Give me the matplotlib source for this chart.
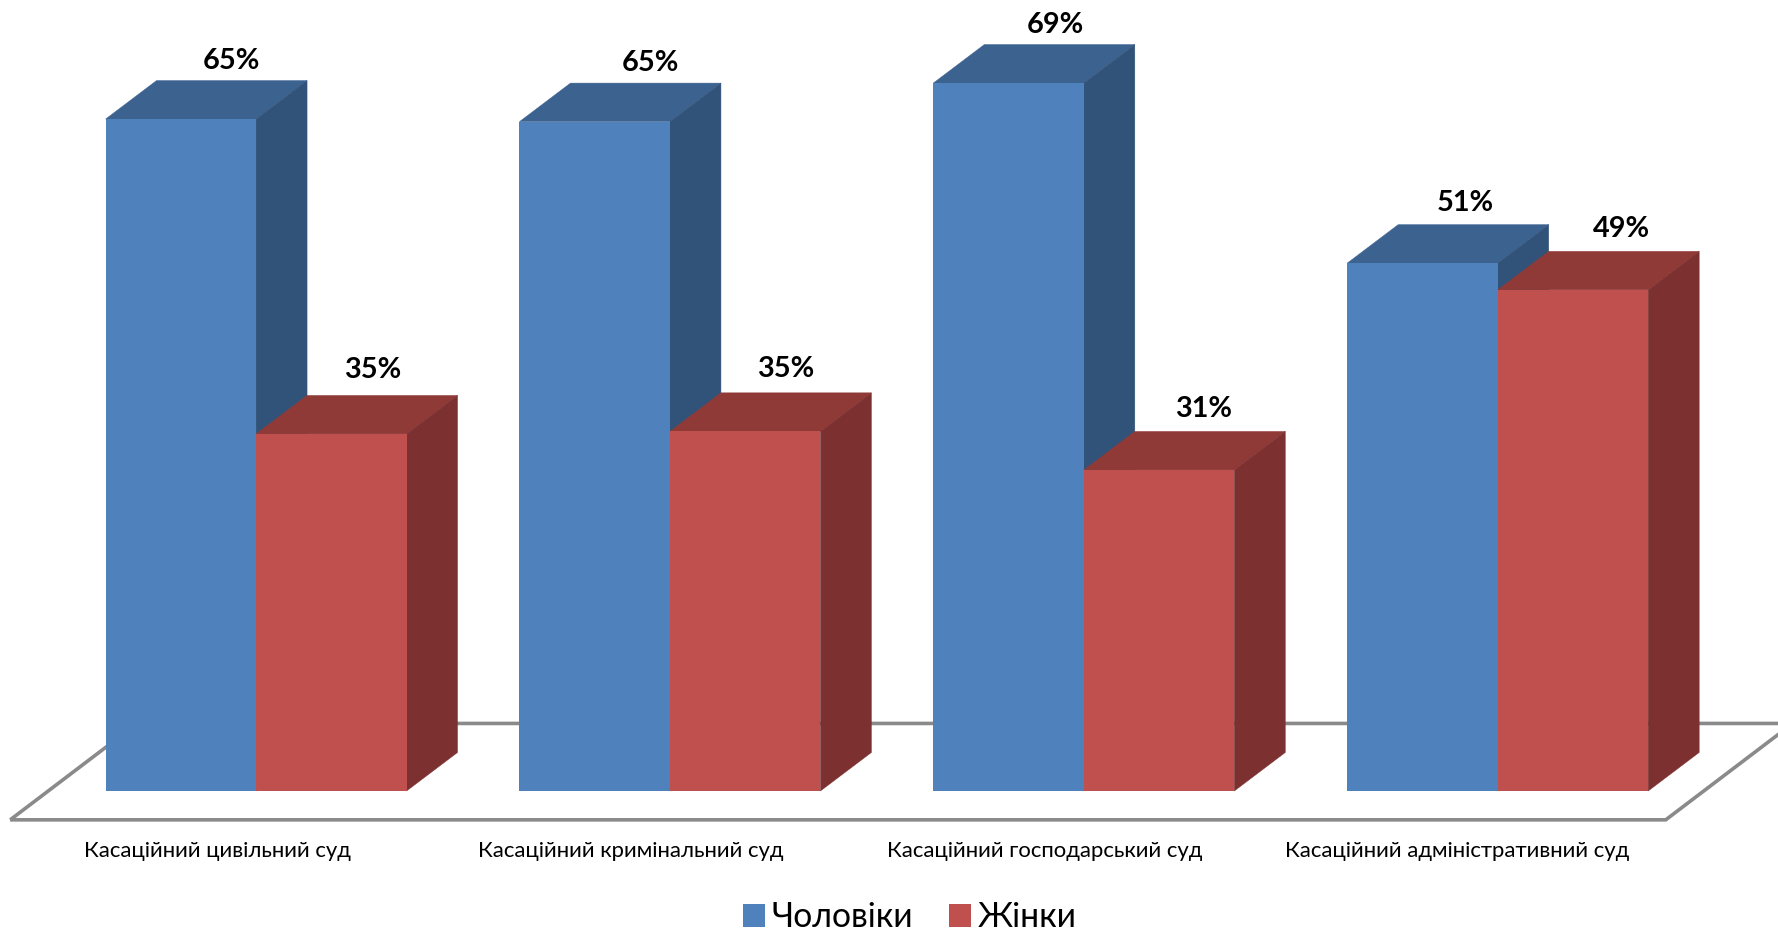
import matplotlib
matplotlib.use("Agg")
import matplotlib.pyplot as plt
from matplotlib.patches import Polygon, Patch

plt.rcParams['font.family'] = ['Lato', 'Open Sans', 'DejaVu Sans']

categories = ["Касаційний цивільний суд", "Касаційний кримінальний суд",
              "Касаційний господарський суд", "Касаційний адміністративний суд"]
men = [65.3, 65.05, 68.8, 51.3]
women = [34.7, 34.95, 31.2, 48.7]
men_labels = ["65%", "65%", "69%", "51%"]
women_labels = ["35%", "35%", "31%", "49%"]
series_names = ["Чоловіки", "Жінки"]

W, H = 1778, 931
S = W / 1568
GROUP = 365 * S
CENTER0 = 225.8 * S
BASE = 697.6 * S
UNIT = 9.075 * S
BAR_W = 132.7 * S / GROUP
DX = 45 * S / GROUP
DY = 34 * S / UNIT

BLUE = ("#4F81BD", "#3C6290", "#325379")
RED = ("#C0504D", "#903A38", "#7C302F")

fig = plt.figure(figsize=(W / 100, H / 100), dpi=100, facecolor="white")
ax = fig.add_axes([0, 0, 1, 1])
ax.set_xlim(-CENTER0 / GROUP, (W - CENTER0) / GROUP)
ax.set_ylim(-(H - BASE) / UNIT, BASE / UNIT)
ax.axis("off")


def px(x, y):
    """shrunk reference pixel -> data coordinates"""
    return (x * S - CENTER0) / GROUP, (BASE - y * S) / UNIT


floor = [px(9, 723), px(1469, 723), px(1581, 638), px(121, 638)]
ax.add_patch(Polygon(floor, closed=True, fill=False, edgecolor="#8A8A8A",
                     linewidth=2.6, joinstyle="miter", zorder=1))


def draw_bar(left, value, cols, z):
    ax.bar(left, value, width=BAR_W, align="edge", color=cols[0], linewidth=0, zorder=z + 0.2)
    r = left + BAR_W
    ax.add_patch(Polygon([(left, value), (r, value), (r + DX, value + DY), (left + DX, value + DY)],
                         closed=True, facecolor=cols[1], edgecolor=cols[1], linewidth=0.3, zorder=z))
    ax.add_patch(Polygon([(r, 0), (r + DX, DY), (r + DX, value + DY), (r, value)],
                         closed=True, facecolor=cols[2], edgecolor=cols[2], linewidth=0.3, zorder=z))


men_dx = [44.5, 49, 41.5, 38]
women_dx = [36.5, 36, 39, 42.5]
men_dy = [51, 52, 51, 53]
women_dy = [56, 55, 54, 54]
for i, cat in enumerate(categories):
    draw_bar(i - BAR_W, men[i], BLUE, 2 + i)
    draw_bar(i, women[i], RED, 2.5 + i)
    ax.annotate(men_labels[i], (i - BAR_W / 2, men[i]), xytext=(men_dx[i] * S * 0.72, men_dy[i] * S * 0.72),
                textcoords="offset points", ha="center", va="center",
                fontsize=20.8, fontweight="bold", color="black", zorder=10)
    ax.annotate(women_labels[i], (i + BAR_W / 2, women[i]), xytext=(women_dx[i] * S * 0.72, women_dy[i] * S * 0.72),
                textcoords="offset points", ha="center", va="center",
                fontsize=20.8, fontweight="bold", color="black", zorder=10)

tick_centers = [191.5, 556, 921, 1285]
for c, cat in zip(tick_centers, categories):
    ax.text(px(c, 0)[0], px(0, 750.5)[1], cat, ha="center", va="center", fontsize=15.95, color="black")

handles = [Patch(facecolor=BLUE[0], label=series_names[0]),
           Patch(facecolor=RED[0], label=series_names[1])]
ax.legend(handles=handles, loc="center", bbox_to_anchor=(802.5 / 1568, 1 - 809 / 821),
          ncol=2, frameon=False, fontsize=24.3, handlelength=0.64, handleheight=0.64,
          handletextpad=0.22, columnspacing=1.05, borderpad=0)

fig.savefig("out.png", dpi=100)
